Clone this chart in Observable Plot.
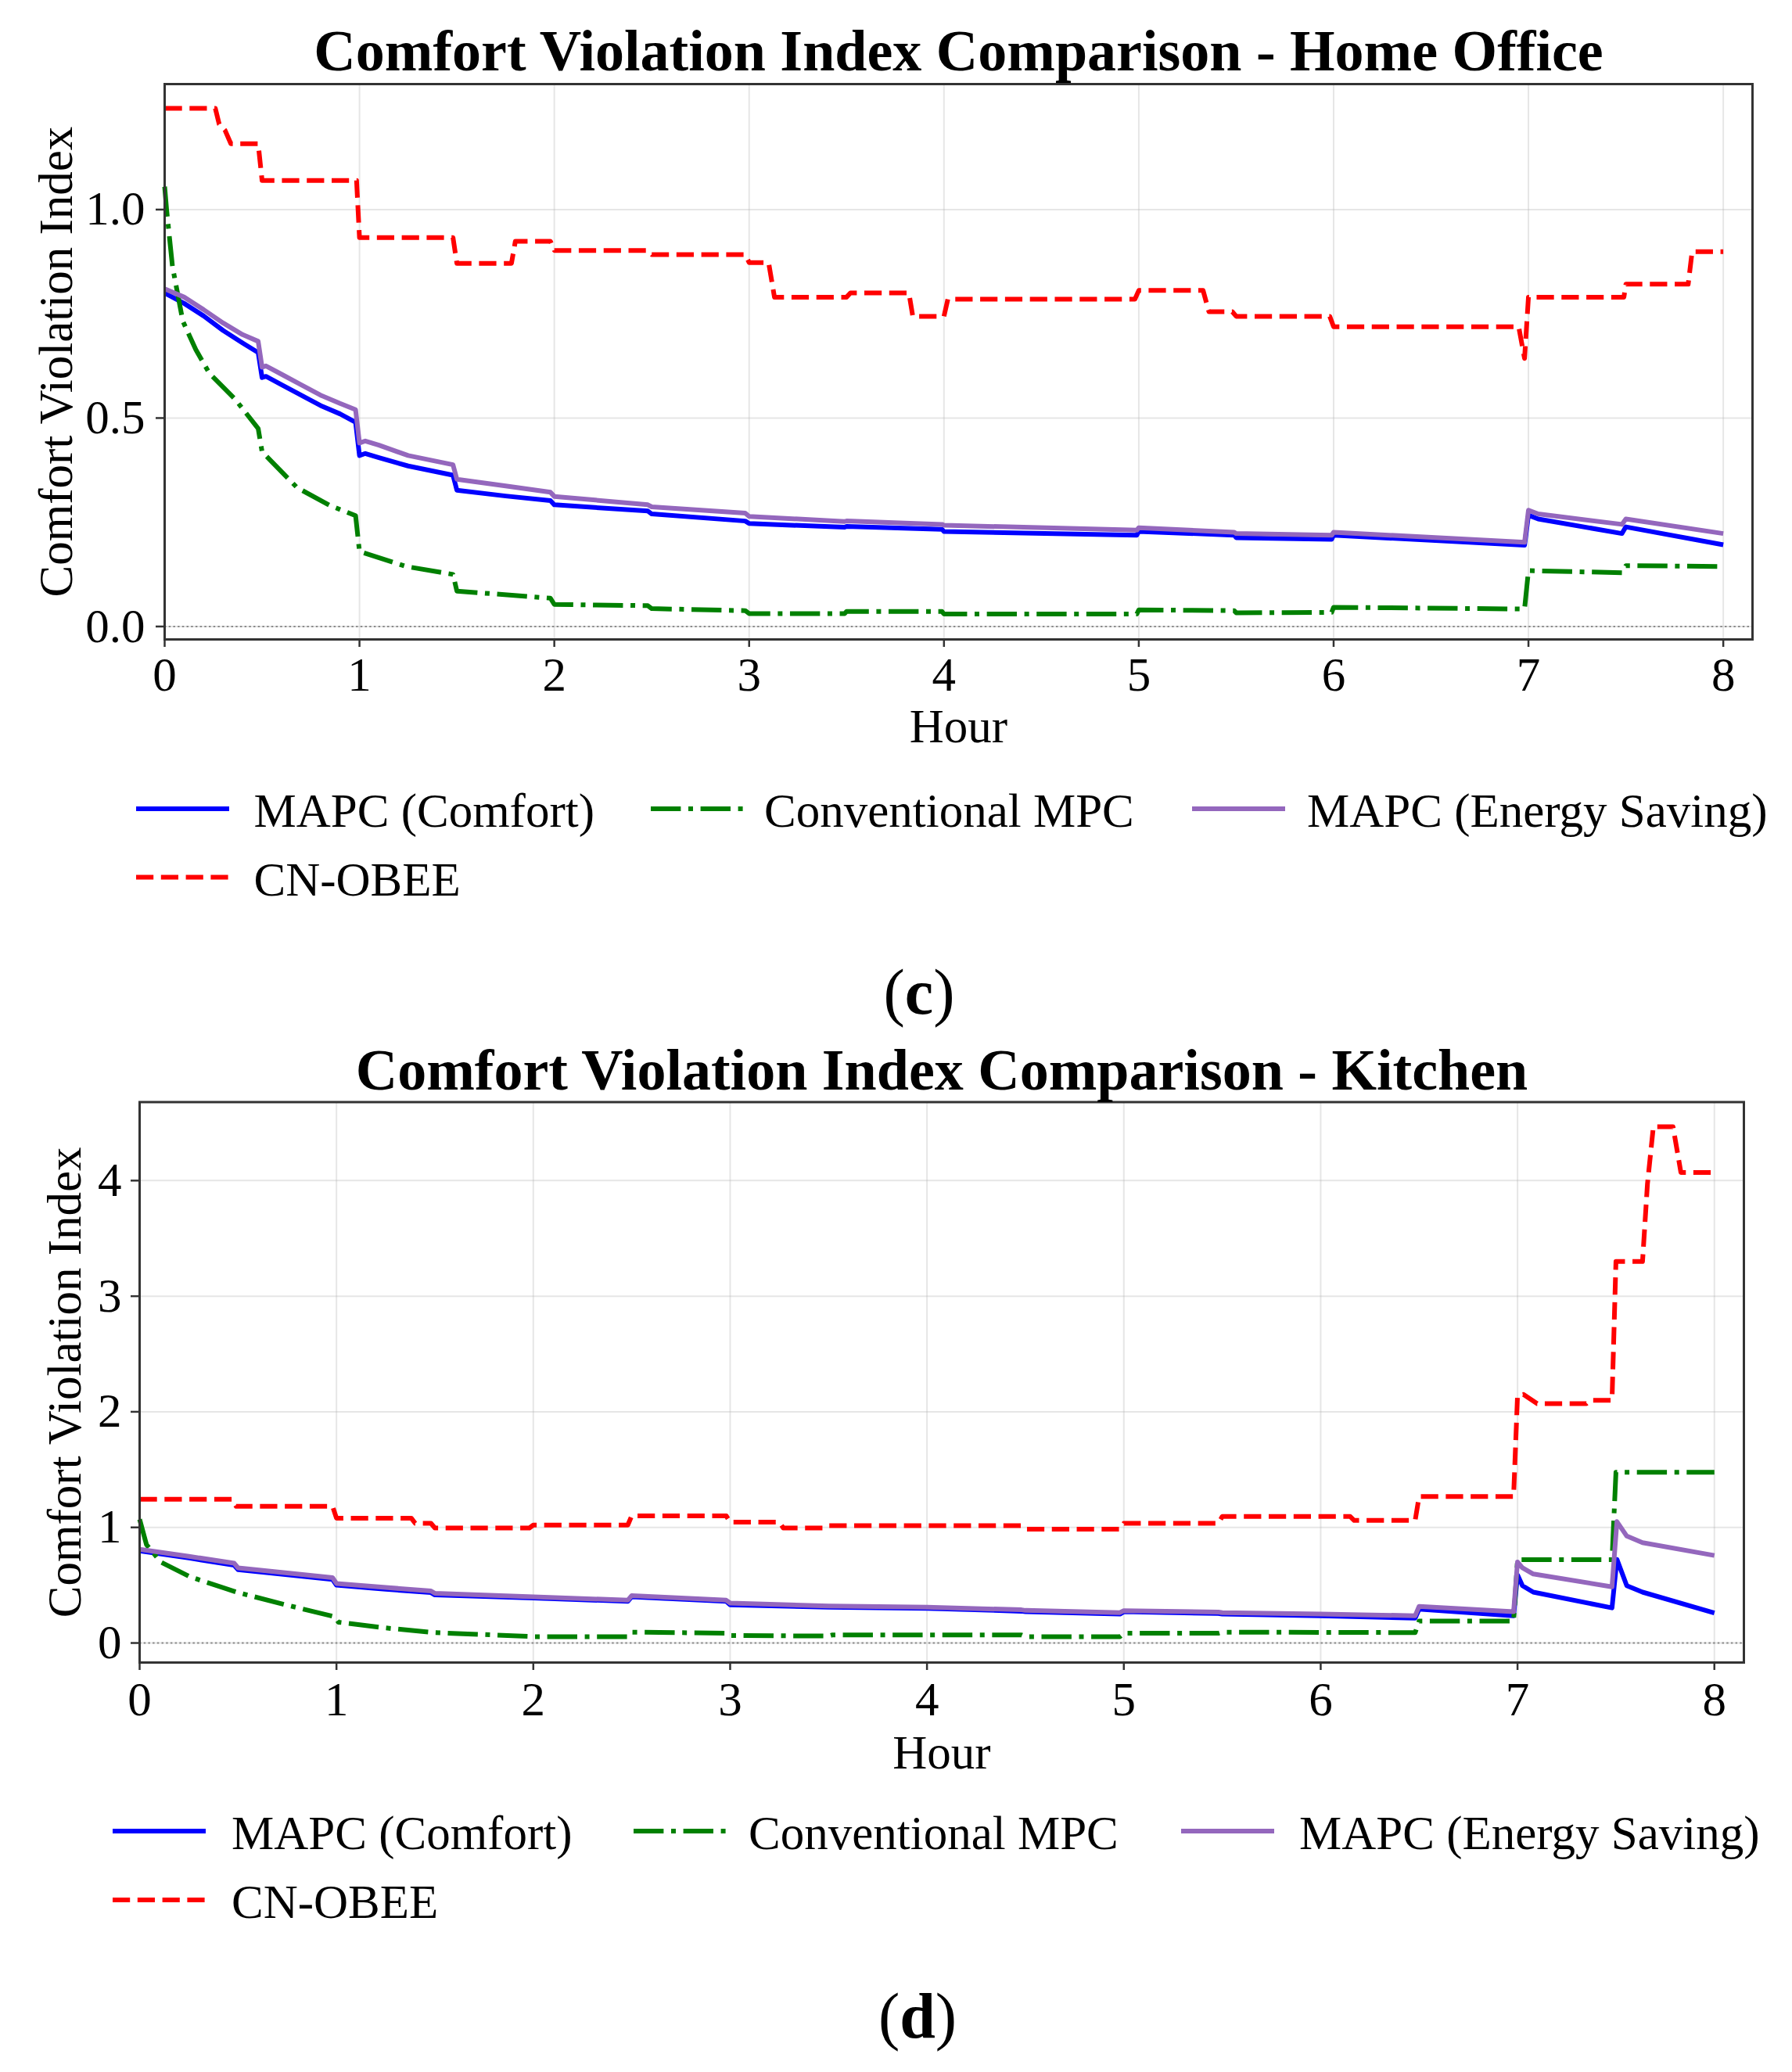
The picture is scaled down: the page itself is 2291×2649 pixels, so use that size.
<!DOCTYPE html>
<html>
<head>
<meta charset="utf-8">
<script src="https://cdn.jsdelivr.net/npm/d3@7"></script>
<script src="https://cdn.jsdelivr.net/npm/@observablehq/plot@0.6"></script>
<style>
  html, body { margin: 0; padding: 0; background: #fff; }
  #page { position: relative; width: 2291px; height: 2649px; background: #fff; overflow: hidden;
          font-family: "Liberation Serif", "Times New Roman", serif; }
  .abs { position: absolute; left: 0; }
</style>
</head>
<body>
<div id="page">
  <div id="chartC" class="abs" style="top:0px"></div>
  <div id="chartD" class="abs" style="top:1300px"></div>
</div>
<script>
// ---------------- DATA ----------------
const hourTicks = [0, 1, 2, 3, 4, 5, 6, 7, 8];
const officeYTicks = [0, 0.5, 1.0];
const kitchenYTicks = [0, 1, 2, 3, 4];
const seriesNames = ["MAPC (Comfort)", "Conventional MPC", "MAPC (Energy Saving)", "CN-OBEE"];

// Home Office
const officeHoursMapc = [0,0.1,0.2,0.3,0.4,0.48,0.5,0.52,0.6,0.7,0.8,0.9,0.98,1.0,1.03,1.1,1.25,1.48,1.5,1.75,1.98,2.0,2.48,2.5,2.98,3.0,3.49,3.5,3.99,4.0,4.99,5.0,5.49,5.5,5.99,6.0,6.98,7.0,7.05,7.48,7.5,8.0];
const officeMapcComfort = [0.80,0.775,0.745,0.71,0.68,0.657,0.597,0.60,0.58,0.555,0.53,0.51,0.49,0.41,0.415,0.405,0.385,0.363,0.327,0.313,0.302,0.292,0.277,0.27,0.253,0.247,0.238,0.24,0.233,0.228,0.219,0.228,0.219,0.213,0.209,0.219,0.195,0.267,0.258,0.223,0.239,0.196];
const officeMapcEnergy = [0.81,0.79,0.76,0.728,0.70,0.684,0.622,0.625,0.605,0.58,0.555,0.535,0.52,0.44,0.445,0.435,0.41,0.388,0.353,0.337,0.322,0.312,0.292,0.287,0.272,0.264,0.252,0.253,0.245,0.243,0.231,0.237,0.226,0.223,0.219,0.226,0.202,0.279,0.27,0.245,0.258,0.223];
const officeHoursMpc = [0,0.01,0.04,0.093,0.16,0.23,0.36,0.48,0.5,0.68,0.85,0.98,1.0,1.24,1.48,1.5,1.98,2.0,2.48,2.5,2.98,3.0,3.49,3.5,3.99,4.0,4.99,5.0,5.49,5.5,5.99,6.0,6.98,7.0,7.48,7.5,8.0];
const officeMpc = [1.055,1.0,0.864,0.733,0.664,0.607,0.546,0.475,0.419,0.333,0.29,0.266,0.18,0.144,0.125,0.085,0.068,0.053,0.05,0.043,0.038,0.031,0.031,0.036,0.036,0.03,0.03,0.04,0.038,0.033,0.034,0.046,0.042,0.134,0.129,0.146,0.144];
const officeHoursCn = [0,0.26,0.28,0.31,0.34,0.48,0.5,0.985,1.0,1.48,1.5,1.78,1.8,1.98,2.0,2.48,2.5,2.98,3.0,3.1,3.13,3.5,3.52,3.82,3.84,4.0,4.02,4.98,5.0,5.33,5.36,5.48,5.5,5.98,6.0,6.95,6.98,7.0,7.49,7.5,7.82,7.84,8.0];
const officeCn = [1.243,1.243,1.205,1.19,1.158,1.158,1.07,1.07,0.933,0.933,0.871,0.871,0.924,0.924,0.902,0.902,0.892,0.892,0.873,0.873,0.79,0.79,0.80,0.80,0.744,0.744,0.785,0.785,0.806,0.806,0.755,0.755,0.744,0.744,0.719,0.719,0.643,0.79,0.79,0.821,0.821,0.899,0.899];

// Kitchen
const kitchenHoursMapc = [0,0.25,0.48,0.5,0.75,0.98,1.0,1.25,1.48,1.5,2.0,2.48,2.5,2.98,3.0,3.5,4.0,4.48,4.5,4.98,5.0,5.48,5.5,6.0,6.48,6.5,6.98,7.0,7.025,7.08,7.48,7.505,7.555,7.635,8.0];
const kitchenMapcComfort = [0.797,0.735,0.673,0.634,0.59,0.55,0.5,0.465,0.436,0.416,0.39,0.36,0.40,0.36,0.33,0.31,0.30,0.275,0.27,0.25,0.27,0.255,0.25,0.235,0.215,0.293,0.236,0.588,0.496,0.44,0.304,0.723,0.496,0.44,0.26];
const kitchenMapcEnergy = [0.81,0.75,0.69,0.65,0.605,0.565,0.515,0.48,0.45,0.43,0.40,0.37,0.41,0.37,0.345,0.32,0.31,0.287,0.282,0.263,0.28,0.267,0.262,0.25,0.236,0.317,0.27,0.70,0.65,0.597,0.486,1.05,0.925,0.868,0.757];
const kitchenHoursMpc = [0,0.035,0.108,0.254,0.5,0.75,0.99,1.01,1.25,1.5,2.0,2.48,2.5,2.98,3.0,3.5,3.52,4.48,4.5,4.98,5.0,5.48,5.5,6.48,6.5,6.98,7.0,7.48,7.5,8.0];
const kitchenMpc = [1.07,0.85,0.70,0.574,0.436,0.327,0.228,0.18,0.13,0.09,0.055,0.055,0.094,0.085,0.065,0.06,0.07,0.07,0.055,0.055,0.084,0.084,0.094,0.09,0.19,0.19,0.72,0.72,1.477,1.477];
const kitchenHoursCn = [0,0.47,0.49,0.98,1.0,1.38,1.40,1.48,1.5,1.98,2.0,2.48,2.5,2.98,3.0,3.25,3.27,3.48,3.5,4.48,4.5,4.98,5.0,5.48,5.5,6.15,6.17,6.48,6.5,6.98,7.0,7.03,7.1,7.35,7.37,7.48,7.5,7.635,7.66,7.69,7.79,7.83,8.0];
const kitchenCn = [1.243,1.243,1.183,1.183,1.08,1.08,1.035,1.035,0.995,0.995,1.02,1.02,1.10,1.10,1.045,1.045,0.995,0.995,1.015,1.015,0.985,0.985,1.035,1.035,1.094,1.094,1.06,1.06,1.267,1.267,2.14,2.15,2.07,2.07,2.10,2.10,3.30,3.30,3.97,4.466,4.466,4.07,4.07];

// ---------------- STYLES ----------------
const seriesColors = ["#0000ff", "#008000", "#9467bd", "#ff0000"];
const seriesDash = [null, "38.4,9.6,6,9.6", null, "22.2,9.6"];
const LW = 6;
const FONT = '"Liberation Serif", "Times New Roman", serif';

function zip(hs, vs, name) { return hs.map((h, i) => ({h, v: vs[i], name})); }

function makeChart(cfg) {
  const data = [
    zip(cfg.hours[0], cfg.values[0], seriesNames[0]),
    zip(cfg.hours[1], cfg.values[1], seriesNames[1]),
    zip(cfg.hours[2], cfg.values[2], seriesNames[2]),
    zip(cfg.hours[3], cfg.values[3], seriesNames[3])
  ];
  const H = 1000;
  return Plot.plot({
    width: 2291,
    height: H,
    marginLeft: cfg.mL,
    marginRight: cfg.mR,
    marginTop: cfg.mT,
    marginBottom: H - cfg.frameBottom,
    style: {fontFamily: FONT, background: "white", overflow: "visible", color: "black"},
    x: {domain: [0, 8.15]},
    y: {domain: cfg.yDomain},
    marks: [
      Plot.gridX({ticks: hourTicks, stroke: "#b0b0b0", strokeOpacity: 0.32, strokeWidth: 2}),
      Plot.gridY({ticks: cfg.yTicks, stroke: "#b0b0b0", strokeOpacity: 0.32, strokeWidth: 2}),
      Plot.ruleY([0], {stroke: "#8c8c8c", strokeWidth: 2, strokeDasharray: "2.5,3.2"}),
      ...data.map((d, i) => Plot.line(d, {
        x: "h", y: "v", stroke: seriesColors[i], strokeWidth: LW,
        strokeDasharray: seriesDash[i], strokeLinecap: "butt", strokeLinejoin: "round"
      })),
      Plot.frame({stroke: "#333", strokeWidth: 3}),
      Plot.axisX({ticks: hourTicks, tickSize: 10, tickPadding: cfg.xPad, fontSize: 61, label: null,
                  stroke: "#333", strokeWidth: 2.5, fill: "black"}),
      Plot.axisY({ticks: cfg.yTicks, tickSize: 11, tickPadding: cfg.yPad, fontSize: 61, label: null,
                  tickFormat: cfg.yFormat, stroke: "#333", strokeWidth: 2.5, fill: "black"}),
      Plot.text([cfg.title], {text: d => d, frameAnchor: "top", dy: cfg.titleDy, lineAnchor: "bottom",
                  fontSize: 74, fontWeight: "bold", fill: "black"}),
      Plot.text(["Hour"], {text: d => d, frameAnchor: "bottom", dy: cfg.hourDy, lineAnchor: "bottom",
                  fontSize: 61, fill: "black"}),
      Plot.text(["Comfort Violation Index"], {text: d => d, frameAnchor: "left", dx: cfg.yLabelDx, rotate: -90,
                  textAnchor: "middle", lineAnchor: "bottom", fontSize: 61, fill: "black"})
    ]
  });
}

const chartC = makeChart({
  title: "Comfort Violation Index Comparison - Home Office",
  hours: [officeHoursMapc, officeHoursMpc, officeHoursMapc, officeHoursCn],
  values: [officeMapcComfort, officeMpc, officeMapcEnergy, officeCn],
  yDomain: [-0.031, 1.301], yTicks: officeYTicks, yFormat: d3.format(".1f"),
  mL: 210, mR: 51, mT: 107, frameBottom: 817,
  xPad: 12, yPad: 14, titleDy: -18, hourDy: 131, yLabelDx: -119
});
document.getElementById("chartC").appendChild(chartC);

const chartD = makeChart({
  title: "Comfort Violation Index Comparison - Kitchen",
  hours: [kitchenHoursMapc, kitchenHoursMpc, kitchenHoursMapc, kitchenHoursCn],
  values: [kitchenMapcComfort, kitchenMpc, kitchenMapcEnergy, kitchenCn],
  yDomain: [-0.169, 4.679], yTicks: kitchenYTicks, yFormat: d3.format("d"),
  mL: 178, mR: 62, mT: 108.5, frameBottom: 825,
  xPad: 14, yPad: 12, titleDy: -16.5, hourDy: 135, yLabelDx: -76
});
document.getElementById("chartD").appendChild(chartD);

// ---------------- LEGENDS & PANEL LABELS ----------------
const overlay = d3.select("#page").append("svg")
  .attr("width", 2291).attr("height", 2649)
  .style("position", "absolute").style("left", 0).style("top", 0)
  .style("pointer-events", "none")
  .attr("font-family", FONT);

function legend(rows, itemX, textX, sampleLen) {
  seriesNames.forEach((name, i) => {
    const r = Math.floor(i / 3), c = i % 3;
    const y = rows[r];
    overlay.append("line")
      .attr("x1", itemX[c]).attr("x2", itemX[c] + sampleLen)
      .attr("y1", y).attr("y2", y)
      .attr("stroke", seriesColors[i]).attr("stroke-width", LW)
      .attr("stroke-dasharray", seriesDash[i])
      .attr("stroke-linecap", "butt");
    overlay.append("text")
      .attr("x", textX[c]).attr("y", y + 23)
      .attr("font-size", 61).attr("fill", "black")
      .text(name);
  });
}
legend([1034, 1121.5], [174, 832, 1524], [324.5, 977, 1671], 119);
legend([2341, 2429], [144, 810, 1510], [296, 957, 1661], 119);

function panelLabel(letter, x, y) {
  const t = overlay.append("text").attr("x", x).attr("y", y)
    .attr("text-anchor", "middle").attr("font-size", 82).attr("fill", "black");
  t.append("tspan").text("(");
  t.append("tspan").attr("font-weight", "bold").text(letter);
  t.append("tspan").text(")");
}
panelLabel("c", 1175, 1296);
panelLabel("d", 1173, 2605);
</script>
</body>
</html>
